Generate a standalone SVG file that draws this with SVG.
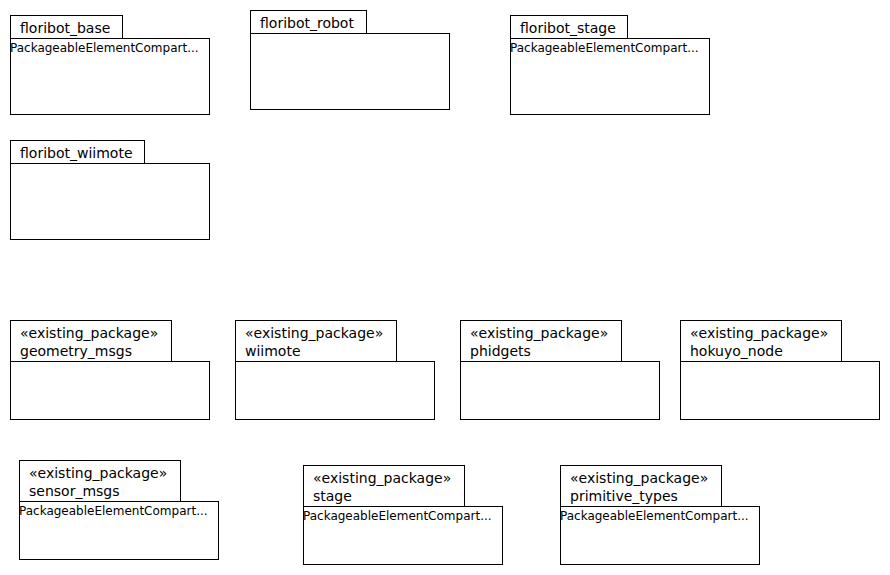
<svg xmlns="http://www.w3.org/2000/svg" width="890" height="575" viewBox="0 0 890 575">
<style>
rect{fill:#fff;stroke:#000;stroke-width:1}
text{font-family:"DejaVu Sans",sans-serif;fill:#000}
.t{font-size:14px}
.c{font-size:12px}
</style>
<rect x="0" y="0" width="890" height="575" style="stroke:none"/>
<g id="floribot_base">
<rect x="10.5" y="15.5" width="112" height="23"/>
<rect x="10.5" y="38.5" width="199" height="76"/>
<text class="t" x="20" y="33">floribot_base</text>
<text class="c" x="10" y="51.5">PackageableElementCompart...</text>
</g>
<g id="floribot_robot">
<rect x="250.5" y="10.5" width="116" height="23"/>
<rect x="250.5" y="33.5" width="199" height="76"/>
<text class="t" x="260" y="28">floribot_robot</text>
</g>
<g id="floribot_stage">
<rect x="510.5" y="15.5" width="117" height="23"/>
<rect x="510.5" y="38.5" width="199" height="76"/>
<text class="t" x="520" y="33">floribot_stage</text>
<text class="c" x="510" y="51.5">PackageableElementCompart...</text>
</g>
<g id="floribot_wiimote">
<rect x="10.5" y="140.5" width="134" height="23"/>
<rect x="10.5" y="163.5" width="199" height="76"/>
<text class="t" x="20" y="158">floribot_wiimote</text>
</g>
<g id="geometry_msgs">
<rect x="10.5" y="320.5" width="161" height="41"/>
<rect x="10.5" y="361.5" width="199" height="58"/>
<text class="t" x="20" y="338">«existing_package»</text>
<text class="t" x="20" y="356">geometry_msgs</text>
</g>
<g id="wiimote">
<rect x="235.5" y="320.5" width="161" height="41"/>
<rect x="235.5" y="361.5" width="199" height="58"/>
<text class="t" x="245" y="338">«existing_package»</text>
<text class="t" x="245" y="356">wiimote</text>
</g>
<g id="phidgets">
<rect x="460.5" y="320.5" width="161" height="41"/>
<rect x="460.5" y="361.5" width="199" height="58"/>
<text class="t" x="470" y="338">«existing_package»</text>
<text class="t" x="470" y="356">phidgets</text>
</g>
<g id="hokuyo_node">
<rect x="680.5" y="320.5" width="161" height="41"/>
<rect x="680.5" y="361.5" width="199" height="58"/>
<text class="t" x="690" y="338">«existing_package»</text>
<text class="t" x="690" y="356">hokuyo_node</text>
</g>
<g id="sensor_msgs">
<rect x="19.5" y="460.5" width="161" height="41"/>
<rect x="19.5" y="501.5" width="199" height="58"/>
<text class="t" x="29" y="478">«existing_package»</text>
<text class="t" x="29" y="496">sensor_msgs</text>
<text class="c" x="19" y="514.5">PackageableElementCompart...</text>
</g>
<g id="stage">
<rect x="303.5" y="465.5" width="161" height="41"/>
<rect x="303.5" y="506.5" width="199" height="58"/>
<text class="t" x="313" y="483">«existing_package»</text>
<text class="t" x="313" y="501">stage</text>
<text class="c" x="303" y="519.5">PackageableElementCompart...</text>
</g>
<g id="primitive_types">
<rect x="560.5" y="465.5" width="161" height="41"/>
<rect x="560.5" y="506.5" width="199" height="58"/>
<text class="t" x="570" y="483">«existing_package»</text>
<text class="t" x="570" y="501">primitive_types</text>
<text class="c" x="560" y="519.5">PackageableElementCompart...</text>
</g>
<g id="connectors"></g>
</svg>
